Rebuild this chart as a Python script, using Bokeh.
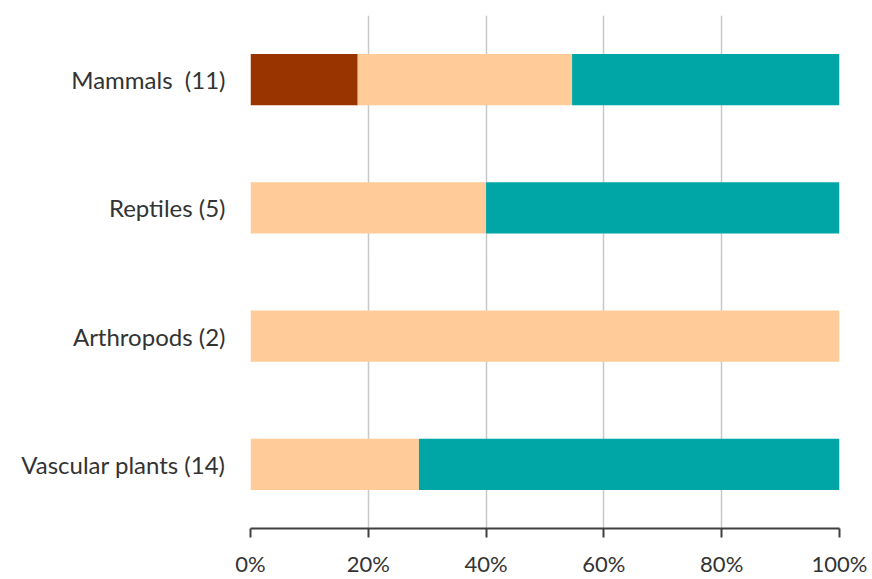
from bokeh.plotting import figure
from bokeh.models import ColumnDataSource, NumeralTickFormatter, FixedTicker, Range1d, FactorRange
from bokeh.embed import file_html
from bokeh.resources import INLINE

categories = ["Vascular plants (14)", "Arthropods (2)", "Reptiles (5)", "Mammals\u00a0\u00a0(11)"]
series_names = ["s1", "s2", "s3"]
s1 = [0.0, 0.0, 0.0, 0.182]
s2 = [0.286, 1.0, 0.40, 0.364]
s3 = [0.714, 0.0, 0.60, 0.454]
colors = ["#993300", "#FFCC99", "#00A6A6"]
ticks = [0, 0.2, 0.4, 0.6, 0.8, 1.0]

src = ColumnDataSource(dict(cat=categories, s1=s1, s2=s2, s3=s3))

p = figure(width=872, height=579, y_range=FactorRange(*categories, range_padding=0),
           x_range=Range1d(0, 1), output_backend="svg", toolbar_location=None,
           min_border_left=250, min_border_right=33, min_border_top=15, min_border_bottom=47)
p.hbar_stack(series_names, y="cat", height=0.4, color=colors, source=src, line_width=0)

p.outline_line_color = None
p.ygrid.grid_line_color = None
p.xgrid.grid_line_color = "#C8C8C8"
p.xgrid.grid_line_width = 1.5
p.xaxis.ticker = FixedTicker(ticks=ticks)
p.xaxis.formatter = NumeralTickFormatter(format="0%")
p.xaxis.axis_line_color = "#404040"
p.xaxis.axis_line_width = 2
p.xaxis.major_tick_line_color = "#404040"
p.xaxis.major_tick_line_width = 2
p.xaxis.major_tick_out = 9
p.xaxis.major_tick_in = 0
p.xaxis.minor_tick_line_color = None
p.xaxis.major_label_standoff = 12
p.yaxis.axis_line_color = None
p.yaxis.major_tick_line_color = None
p.yaxis.major_tick_out = 0
p.yaxis.major_tick_in = 0
p.yaxis.minor_tick_line_color = None
p.yaxis.major_label_standoff = 25
for ax in (p.xaxis, p.yaxis):
    ax.major_label_text_font = "Lato"
    ax.major_label_text_color = "#333333"
p.xaxis.major_label_text_font_size = "22px"
p.yaxis.major_label_text_font_size = "24px"

open("out.html", "w").write(file_html(p, INLINE))
